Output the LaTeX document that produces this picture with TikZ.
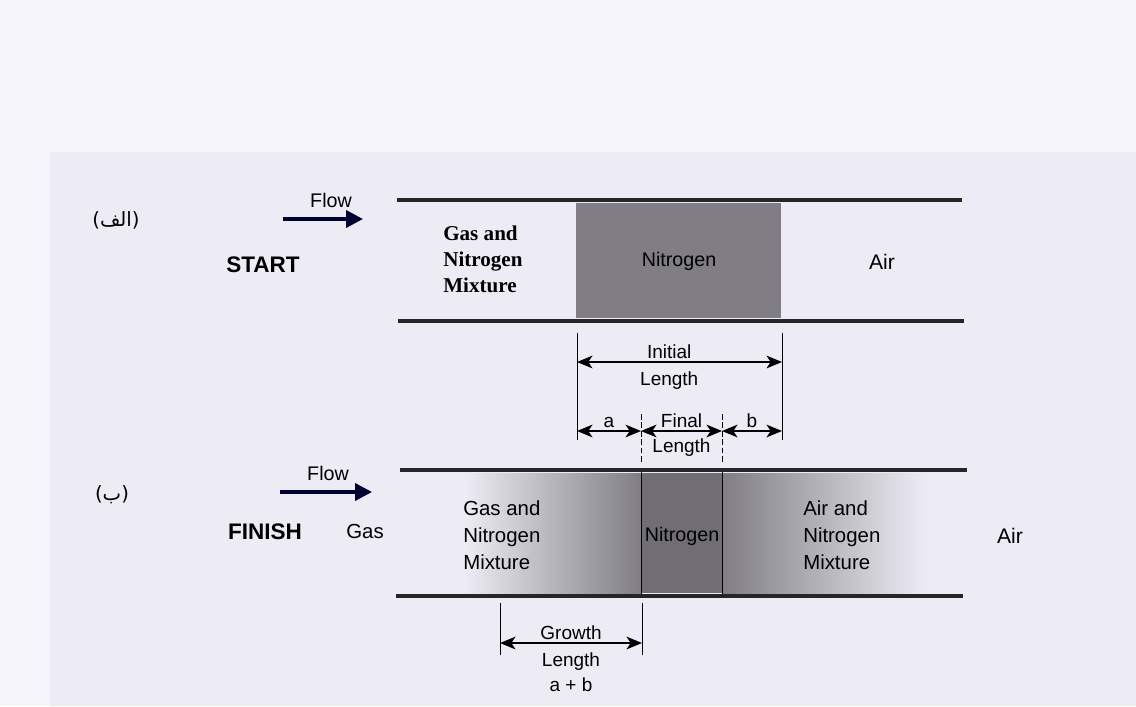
\documentclass[tikz,border=0pt]{standalone}
\usepackage{fontspec}
\setmainfont{Liberation Sans}
\newfontfamily\serifbold{Liberation Serif}
\newfontfamily\arabicfont[Script=Arabic]{DejaVu Sans}
\usetikzlibrary{arrows.meta,positioning}
\TeXXeTstate=1
\definecolor{paper}{RGB}{247,245,252}
\definecolor{scan}{RGB}{237,235,243}
\definecolor{nitro}{RGB}{128,126,132}
\definecolor{nitrodark}{RGB}{112,110,116}

\begin{document}
\begin{tikzpicture}[x=0.025cm, y=-0.025cm,
    pipe/.style={line width=3.2pt, black!85},
    dimline/.style={{Stealth[length=11pt,width=9pt,inset=3pt]}-{Stealth[length=11pt,width=9pt,inset=3pt]}, line width=1.3pt},
    extline/.style={line width=0.7pt},
    gapline/.style={line width=0.6pt, dash pattern=on 4pt off 2pt},
    flowarrow/.style={-{Triangle[length=12pt,width=12pt]}, line width=2.6pt, black!80!blue},
    seriftxt/.style={font=\serifbold\bfseries\fontsize{15}{18.5}\selectfont, align=left, inner sep=0pt},
    sanstxt/.style={font=\fontsize{14.5}{19.2}\selectfont, align=left, inner sep=0pt},
    dimtxt/.style={font=\fontsize{13.5}{17.5}\selectfont, inner sep=1.5pt},
    stagetxt/.style={font=\bfseries\fontsize{16}{19}\selectfont, inner sep=0pt},
    flowtxt/.style={font=\fontsize{14}{16}\selectfont, inner sep=0pt},
    arabictxt/.style={font=\arabicfont\fontsize{14}{16}\selectfont, inner sep=0pt}
]
    % Paper and scanned area
    \fill[paper] (0,0) rectangle (1136,706);
    \fill[scan] (50,152) rectangle (1136,706);
    \useasboundingbox (0,0) rectangle (1136,706);

    % ---------- (a) START ----------
    \node[arabictxt] (lblA) at (116,220) {\beginR(الف)\endR};
    \node[flowtxt] (flowA) at (331,200) {Flow};
    \coordinate (fa1) at (283,219);
    \coordinate (fa2) at (363,219);
    \draw[flowarrow] (fa1) -- (fa2);
    \node[stagetxt] (start) at (263,265) {START};

    % Nitrogen slug
    \fill[nitro] (576,203) rectangle (781,318);

    % Pipe walls
    \coordinate (ptl) at (397,200);
    \coordinate (ptr) at (962,200);
    \coordinate (pbl) at (398,321);
    \coordinate (pbr) at (964,321);
    \draw[pipe] (ptl) -- (ptr);
    \draw[pipe] (pbl) -- (pbr);

    \node[seriftxt, anchor=west] (mixA) at (443,259) {Gas and\\Nitrogen\\Mixture};
    \node[font=\fontsize{14}{16}\selectfont, inner sep=0pt] (nitA) at (679,261) {Nitrogen};
    \node[font=\fontsize{15}{18}\selectfont, inner sep=0pt] (airA) at (882,262) {Air};

    % ---------- Dimensions ----------
    \coordinate (e1t) at (577,333);
    \coordinate (e1b) at (577,440);
    \coordinate (e2t) at (782,333);
    \coordinate (e2b) at (782,440);
    \draw[extline] (e1t) -- (e1b);
    \draw[extline] (e2t) -- (e2b);

    % Initial length
    \coordinate (i1) at (577,362);
    \coordinate (i2) at (782,362);
    \draw[dimline] (i1) -- (i2)
        node[dimtxt, pos=0.45, above] {Initial}
        node[dimtxt, pos=0.45, below=5pt] {Length};

    % a, final length, b
    \coordinate (f0) at (577,431);
    \coordinate (f1) at (641,431);
    \coordinate (f2) at (722,431);
    \coordinate (f3) at (782,431);
    \draw[dimline] (f0) -- (f1) node[dimtxt, midway, above] {a};
    \draw[dimline] (f1) -- (f2)
        node[dimtxt, midway, above] {Final}
        node[dimtxt, midway, below=3pt] {Length};
    \draw[dimline] (f2) -- (f3) node[dimtxt, midway, above] {b};

    \coordinate (g1t) at (641,414);
    \coordinate (g1b) at (641,463);
    \coordinate (g2t) at (722,414);
    \coordinate (g2b) at (722,463);
    \draw[gapline] (g1t) -- (g1b);
    \draw[gapline] (g2t) -- (g2b);

    % ---------- (b) FINISH ----------
    \node[arabictxt] (lblB) at (112,495) {\beginR(ب)\endR};
    \node[flowtxt] (flowB) at (328,473) {Flow};
    \coordinate (fb1) at (280,492);
    \coordinate (fb2) at (372,492);
    \draw[flowarrow] (fb1) -- (fb2);
    \node[stagetxt] (finish) at (265,532) {FINISH};
    \node[font=\fontsize{14.5}{17}\selectfont, inner sep=0pt] (gasB) at (365,531) {Gas};

    % Mixed zones
    \shade[left color=scan, right color=nitro] (465,473) rectangle (641,593);
    \fill[nitrodark] (641,473) rectangle (722,593);
    \shade[left color=nitro, right color=scan] (722,473) rectangle (925,593);
    \coordinate (z1t) at (641,471);
    \coordinate (z1b) at (641,595);
    \coordinate (z2t) at (722,471);
    \coordinate (z2b) at (722,595);
    \draw[extline] (z1t) -- (z1b);
    \draw[extline] (z2t) -- (z2b);

    % Pipe walls
    \coordinate (qtl) at (400,470);
    \coordinate (qtr) at (967,470);
    \coordinate (qbl) at (396,596);
    \coordinate (qbr) at (963,596);
    \draw[pipe] (qtl) -- (qtr);
    \draw[pipe] (qbl) -- (qbr);

    \node[sanstxt, anchor=west] (mixB) at (463,535) {Gas and\\Nitrogen\\Mixture};
    \node[font=\fontsize{14}{16}\selectfont, inner sep=0pt] (nitB) at (682,536) {Nitrogen};
    \node[sanstxt, anchor=west] (mixC) at (803,535) {Air and\\Nitrogen\\Mixture};
    \node[font=\fontsize{15}{18}\selectfont, inner sep=0pt] (airB) at (1010,536) {Air};

    % Growth length
    \coordinate (h1t) at (500,603);
    \coordinate (h1b) at (500,655);
    \coordinate (h2t) at (642,603);
    \coordinate (h2b) at (642,655);
    \draw[extline] (h1t) -- (h1b);
    \draw[extline] (h2t) -- (h2b);
    \coordinate (k1) at (500,643);
    \coordinate (k2) at (642,643);
    \draw[dimline] (k1) -- (k2)
        node[dimtxt, midway, above] {Growth}
        node[dimtxt, midway, below=5pt, align=center] {Length\\a + b};
\end{tikzpicture}
\end{document}
